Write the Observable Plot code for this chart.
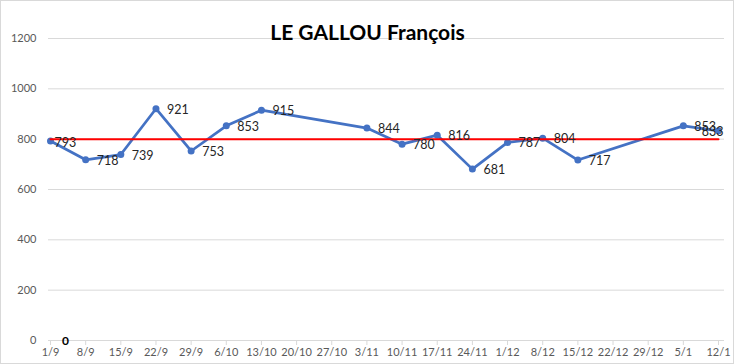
<!DOCTYPE html>
<html>
<head>
<meta charset="utf-8">
<script src="https://cdn.jsdelivr.net/npm/d3@7"></script>
<script src="https://cdn.jsdelivr.net/npm/@observablehq/plot@0.6"></script>
<style>
  html, body { margin: 0; padding: 0; background: #fff; }
  #chart svg { display: block; outline: 1px solid #d9d9d9; outline-offset: -1px; }
</style>
</head>
<body>
<div id="chart"></div>
<script>
const title = "LE GALLOU François";
const dates = ["2019-09-01","2019-09-08","2019-09-15","2019-09-22","2019-09-29","2019-10-06","2019-10-13",
               "2019-11-03","2019-11-10","2019-11-17","2019-11-24","2019-12-01","2019-12-08","2019-12-15",
               "2020-01-05","2020-01-12"];
const scores = [793,718,739,921,753,853,915,844,780,816,681,787,804,717,853,833];
const average = 800;
const tickDates = ["2019-09-01","2019-09-08","2019-09-15","2019-09-22","2019-09-29","2019-10-06","2019-10-13",
                   "2019-10-20","2019-10-27","2019-11-03","2019-11-10","2019-11-17","2019-11-24","2019-12-01",
                   "2019-12-08","2019-12-15","2019-12-22","2019-12-29","2020-01-05","2020-01-12"];
const yTicks = [0,200,400,600,800,1000,1200];
const zeroSeries = [{date: "2019-09-01", value: 0}];

const parse = d3.utcParse("%Y-%m-%d");
const data = dates.map((d, i) => ({date: parse(d), value: scores[i], i}));
const avgData = dates.map(d => ({date: parse(d), value: average}));
const zeroData = zeroSeries.map(d => ({date: parse(d.date), value: d.value}));
const last = data.length - 1;

const chart = Plot.plot({
  width: 734,
  height: 364,
  marginLeft: 48,
  marginRight: 10,
  marginTop: 38,
  marginBottom: 24,
  style: {fontFamily: "Lato, 'Open Sans', sans-serif", background: "#fff"},
  x: {type: "utc", domain: [parse(dates[0]), parse(dates[last])], insetLeft: 2, insetRight: 6},
  y: {domain: [0, 1200]},
  marks: [
    Plot.gridY(yTicks, {stroke: "#d9d9d9", strokeOpacity: 1, strokeWidth: 1}),
    Plot.axisY(yTicks, {tickSize: 0, tickPadding: 12, fill: "#595959", fontSize: 11, label: null,
      tickFormat: d => String(d)}),
    Plot.axisX(tickDates.map(parse), {tickSize: 5, tickPadding: 3, stroke: "#d9d9d9", fill: "#595959",
      fontSize: 11, label: null, tickFormat: d3.utcFormat("%-d/%-m")}),
    Plot.line(data, {x: "date", y: "value", stroke: "#4472C4", strokeWidth: 2.75}),
    Plot.dot(data, {x: "date", y: "value", r: 3.5, fill: "#4472C4", stroke: "none"}),
    Plot.line(avgData, {x: "date", y: "value", stroke: "#ff0000", strokeWidth: 2}),
    Plot.text(data.filter(d => d.i > 0 && d.i < last), {x: "date", y: "value", text: d => String(d.value),
      textAnchor: "start", dx: 11, dy: 1, fontSize: 12.5, fill: "#262626"}),
    Plot.text(data.filter(d => d.i === 0), {x: "date", y: "value", text: d => String(d.value),
      textAnchor: "start", dx: 4, dy: 2, fontSize: 12.5, fill: "#262626"}),
    Plot.text(data.filter(d => d.i === last), {x: "date", y: "value", text: d => String(d.value),
      textAnchor: "end", dx: 5, dy: 1, fontSize: 12.5, fill: "#262626"}),
    Plot.text(zeroData, {x: "date", y: "value", text: d => String(d.value), dx: 15, dy: 1,
      fontSize: 12, fontWeight: "bold", fill: "#000"}),
    Plot.text([title], {frameAnchor: "top", dx: -19, dy: -13, fontSize: 21, fontWeight: "bold", fill: "#000"})
  ]
});
document.getElementById("chart").appendChild(chart);
</script>
</body>
</html>
